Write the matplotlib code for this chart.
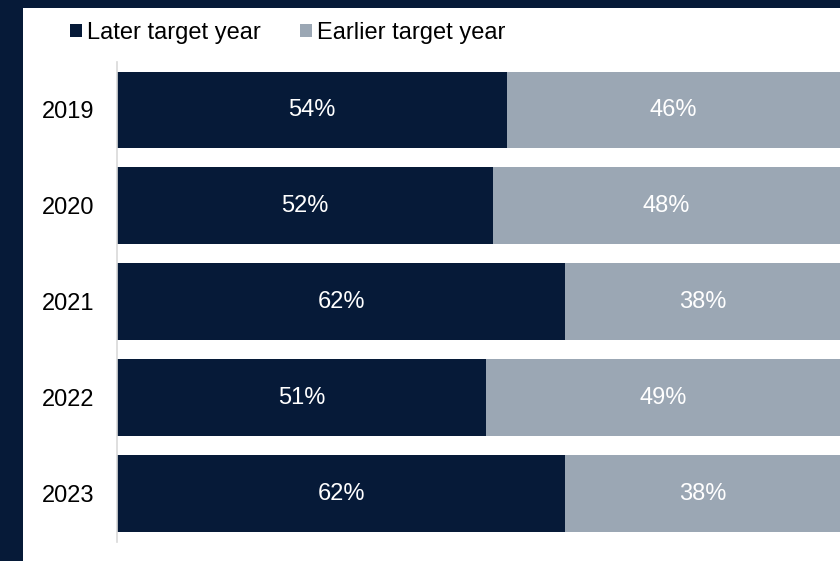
import numpy as np
import matplotlib.pyplot as plt
from matplotlib.patches import Rectangle

plt.rcParams['font.family'] = ['Liberation Sans', 'DejaVu Sans']

years = ['2019', '2020', '2021', '2022', '2023']
later = [54, 52, 62, 51, 62]
earlier = [46, 48, 38, 49, 38]

NAVY = '#061a38'
GREY = '#9ba7b4'

fig = plt.figure(figsize=(8.4, 5.61), dpi=100)
fig.patch.set_facecolor(NAVY)
# white panel inside the navy frame
fig.patches.append(Rectangle((23 / 840, 0), 1, (561 - 8) / 561,
                             transform=fig.transFigure, facecolor='white',
                             edgecolor='none', zorder=-10))

ax = fig.add_axes([117 / 840, 19.5 / 561, 1 - 117 / 840, 479.5 / 561])
ax.set_facecolor('none')

y = np.arange(len(years))
b1 = ax.barh(y, later, height=0.8, color=NAVY, label='Later target year')
b2 = ax.barh(y, earlier, left=later, height=0.8, color=GREY, label='Earlier target year')

for bars, vals in ((b1, later), (b2, earlier)):
    for rect, v in zip(bars, vals):
        ax.text(rect.get_x() + rect.get_width() / 2, rect.get_y() + rect.get_height() / 2,
                f'{v}%', ha='center', va='center', color='white', fontsize=17)

ax.set_xlim(0, 100)
ax.set_ylim(len(years) - 0.5, -0.5)
ax.set_yticks(y)
ax.set_yticklabels(years, fontsize=17)
ax.tick_params(axis='y', length=0, pad=16)
ax.set_xticks([])
for s in ['top', 'right', 'bottom']:
    ax.spines[s].set_visible(False)
ax.spines['left'].set_color('#d9d9d9')
ax.spines['left'].set_linewidth(1.2)

fig.legend(handles=[b1, b2], loc='upper left', bbox_to_anchor=(70 / 840, 1 - 22 / 561),
           ncol=2, frameon=False, fontsize=17, handlelength=0.5, handleheight=0.5,
           handletextpad=0.2, columnspacing=1.7, borderaxespad=0, borderpad=0)

fig.savefig('out.png', dpi=100, facecolor=fig.get_facecolor())
